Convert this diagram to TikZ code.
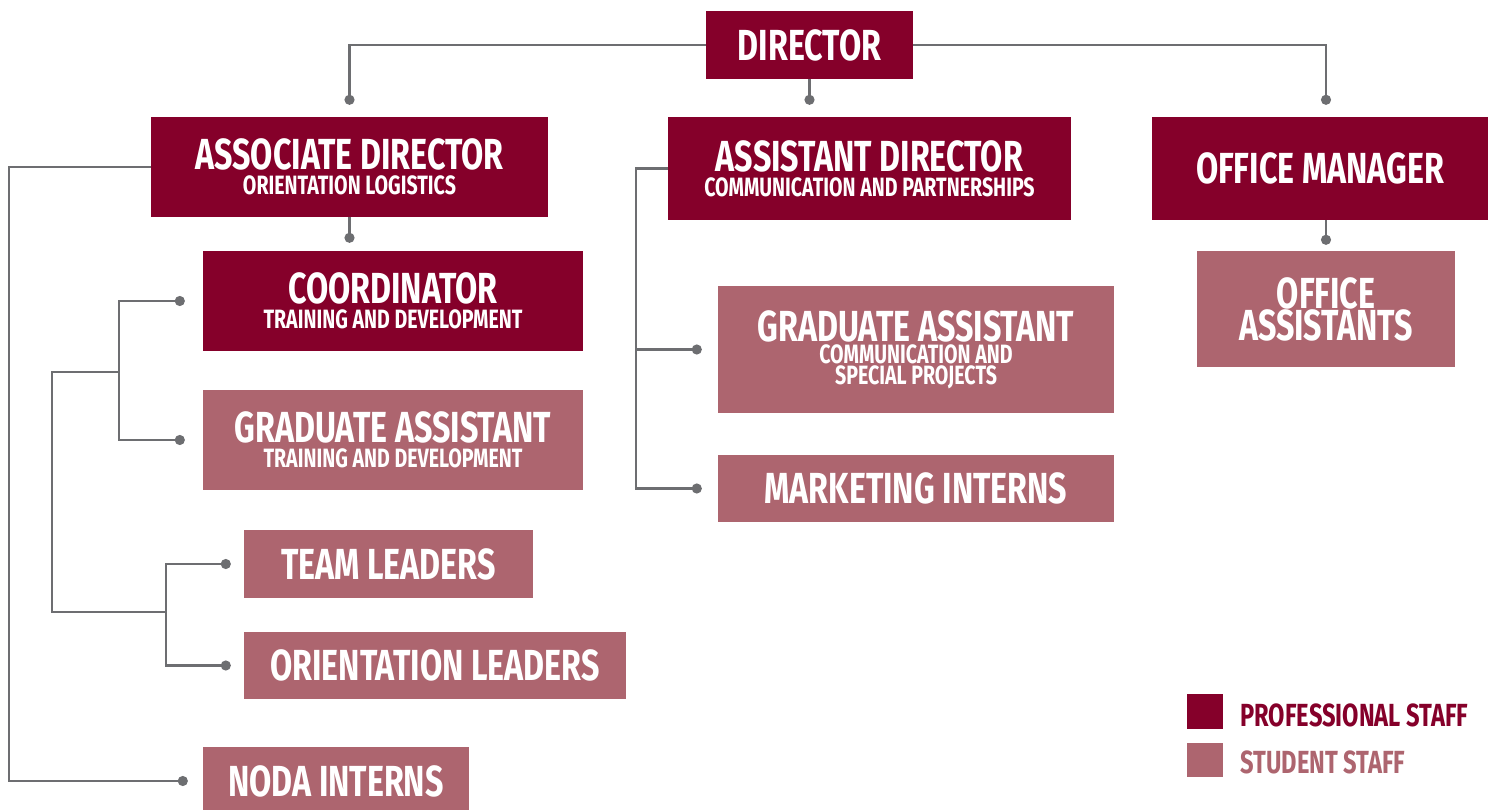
\documentclass[tikz,border=0pt]{standalone}
\usepackage{fontspec}
\setmainfont{Fira Sans}[FakeStretch=0.74]
\usepackage{xcolor}
\usetikzlibrary{
  	positioning,
  	arrows.meta,
  	calc
  }
\definecolor{prored}{HTML}{85002A}
\definecolor{stured}{HTML}{AD656F}
\definecolor{wiregray}{HTML}{6D6E71}
\tikzstyle{pro}=[fill=prored,text=white,inner sep=0pt,align=center,font=\bfseries\fontsize{43.5}{32}\selectfont]
\tikzstyle{stu}=[pro,fill=stured]
\tikzstyle{wire}=[draw=wiregray,line width=2.5pt]
\tikzstyle{tipped}=[wire,-{Circle[length=10pt,width=10pt]}]
\tikzstyle{keytext}=[inner sep=0pt,anchor=west,font=\bfseries\fontsize{32}{32}\selectfont]
\newcommand{\subline}[1]{{\fontsize{26.5}{25}\selectfont #1}}

\begin{document}
\begin{tikzpicture}[x=1pt,y=-1pt]
  \useasboundingbox (0,0) rectangle (1490,810);
  \node[pro,minimum width=207,minimum height=68] (dir) at (809.5,45) {DIRECTOR};
  \node[pro,minimum width=397,minimum height=100] (assoc) at (349.5,167)
     {ASSOCIATE DIRECTOR\\[-7pt]\subline{ORIENTATION LOGISTICS}};
  \node[pro,minimum width=403,minimum height=103] (asst) at (869.5,168.5)
     {ASSISTANT DIRECTOR\\[-7pt]\subline{COMMUNICATION AND PARTNERSHIPS}};
  \node[pro,minimum width=336,minimum height=103] (office) at (1320,168.5) {OFFICE MANAGER};
%
  \node[pro,minimum width=380,minimum height=100] (coord) at (393,301)
     {COORDINATOR\\[-7pt]\subline{TRAINING AND DEVELOPMENT}};
  \node[stu,minimum width=380,minimum height=100] (gatd) at (393,440)
     {GRADUATE ASSISTANT\\[-7pt]\subline{TRAINING AND DEVELOPMENT}};
  \node[stu,minimum width=289,minimum height=68] (team) at (388.5,564) {TEAM LEADERS};
  \node[stu,minimum width=382,minimum height=67] (orient) at (435,665.5) {ORIENTATION LEADERS};
  \node[stu,minimum width=266,minimum height=68] (noda) at (336,781) {NODA INTERNS};
%
  \node[stu,minimum width=396,minimum height=127] (gacom) at (916,349.5)
     {GRADUATE ASSISTANT\\[-10pt]\subline{COMMUNICATION AND}\\[-11pt]\subline{SPECIAL PROJECTS}};
  \node[stu,minimum width=396,minimum height=67] (market) at (916,488.5) {MARKETING INTERNS};
  \node[stu,minimum width=258,minimum height=116] (oa) at (1326,309) {OFFICE\\ASSISTANTS};
%
  \draw[tipped] (dir.west) -| ([yshift=12pt]assoc.north);
  \draw[tipped] (dir.south) -- ([yshift=12pt]dir.south |- asst.north);
  \draw[tipped] (dir.east) -| ([yshift=12pt]oa.north |- office.north);
  \draw[tipped] (assoc.south) -- ([yshift=8pt]coord.north -| assoc.south);
  \draw[tipped] (office.south -| oa.north) -- ([yshift=6pt]oa.north);
  \draw[tipped] (assoc.west) -- ++(-142,0) |- ([xshift=-15pt]noda.west);
  \draw[tipped] (asst.west) -- ++(-32,0) |- ([xshift=-16pt]market.west);
  \draw[tipped] ($(asst.west)+(-32,0)$) |- ([xshift=-16pt]gacom.west);
%
  \coordinate (j1) at (119,372);
  \coordinate (j2) at (166,612);
  \draw[tipped] (j1) |- ([xshift=-18pt]coord.west);
  \draw[tipped] (j1) |- ([xshift=-18pt]gatd.west);
  \draw[tipped] (j2) |- ([xshift=-13pt]team.west);
  \draw[tipped] (j2) |- ([xshift=-13pt]orient.west);
  \draw[wire] (j1) -- ++(-67,0) |- (j2);
%
  \node[fill=prored,minimum width=36,minimum height=35,inner sep=0pt] (pkey) at (1205,711.5) {};
  \node[fill=stured,minimum width=36,minimum height=34,inner sep=0pt] (skey) at (1205,760) {};
  \node[keytext,text=prored,right=17pt of pkey,yshift=-4pt] (ptext) {PROFESSIONAL STAFF};
  \node[keytext,text=stured,right=17pt of skey,yshift=-2pt] (stext) {STUDENT STAFF};
\end{tikzpicture}
\end{document}
